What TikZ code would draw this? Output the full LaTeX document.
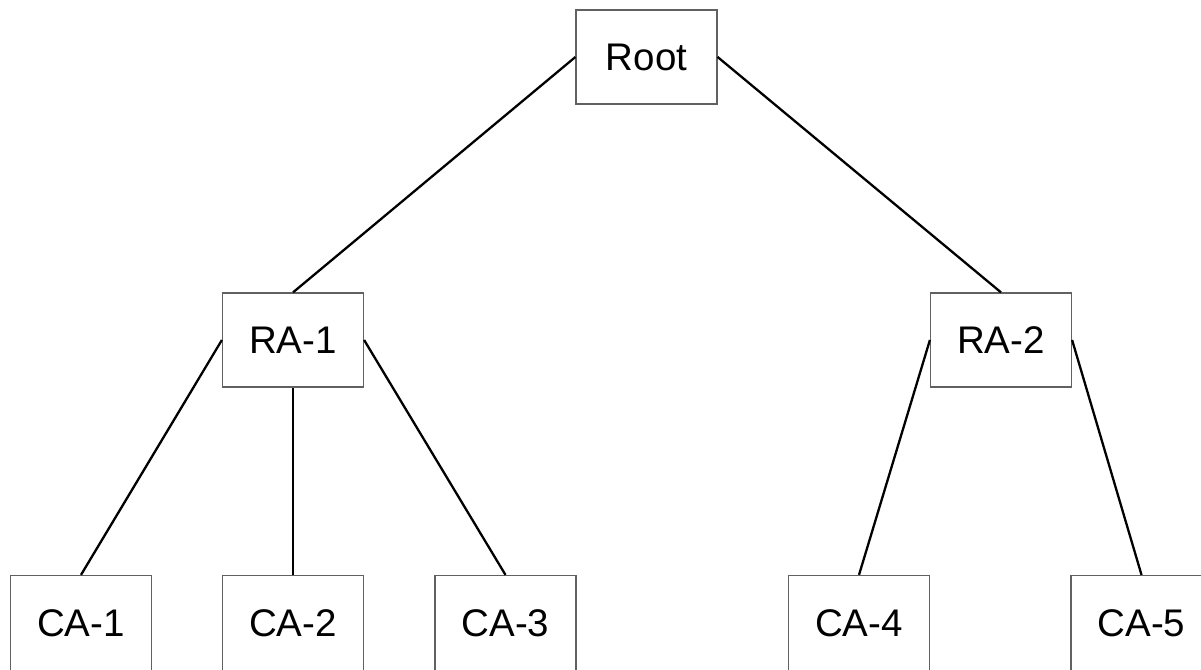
\documentclass[tikz,border=0pt]{standalone}
\usepackage{fontspec}
\setmainfont{Liberation Sans}
\begin{document}
\begin{tikzpicture}[x=1pt,y=1pt,
  box/.style={draw=black!62,line width=1.2pt,minimum width=141pt,minimum height=94pt,inner sep=0pt,
    font=\fontsize{38.5}{46}\selectfont,fill=white},
  cabox/.style={box,minimum height=95pt},
  link/.style={draw=black,line width=2.3pt}]
\clip (0,0) rectangle (1201,669);
\fill[white] (0,0) rectangle (1201,669);
\node[box] (root) at (646.5,612) {Root};
\node[box] (ra1) at (293,329) {RA-1};
\node[box] (ra2) at (1001,329) {RA-2};
\node[cabox] (ca1) at (81,46) {CA-1};
\node[cabox] (ca2) at (293,46) {CA-2};
\node[cabox] (ca3) at (505.5,46) {CA-3};
\node[cabox] (ca4) at (859,46) {CA-4};
\node[cabox] (ca5) at (1141.5,46) {CA-5};
\draw[link] (root.west) -- (ra1.north);
\draw[link] (root.east) -- (ra2.north);
\draw[link] (ra1.west) -- (ca1.north);
\draw[link] (ra1.south) -- (ca2.north);
\draw[link] (ra1.east) -- (ca3.north);
\draw[link] (ra2.west) -- (ca4.north);
\draw[link] (ra2.east) -- (ca5.north);
\end{tikzpicture}
\end{document}
